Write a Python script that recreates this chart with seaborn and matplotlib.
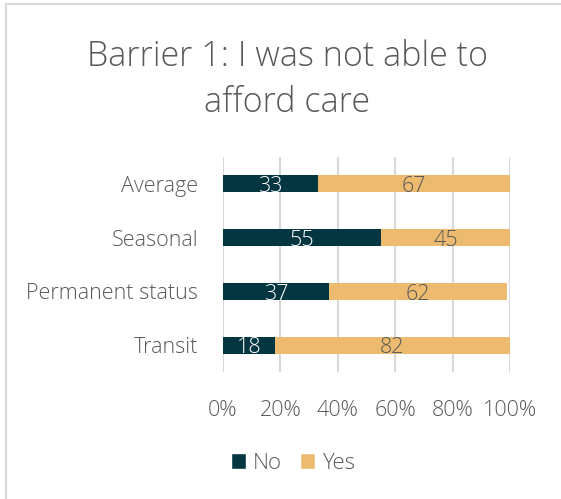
import matplotlib
matplotlib.use("Agg")
import matplotlib.pyplot as plt
from matplotlib.patches import Rectangle, Patch
import pandas as pd
import seaborn as sns

categories = ["Average", "Seasonal", "Permanent status", "Transit"]
no_values = [33, 55, 37, 18]
yes_values = [67, 45, 62, 82]
x_ticks = [0, 20, 40, 60, 80, 100]
x_tick_labels = ["0%", "20%", "40%", "60%", "80%", "100%"]
title = "Barrier 1: I was not able to\nafford care"

NO_COLOR = "#033641"
YES_COLOR = "#EDBB6F"
TEXT = "#595959"

sns.set_theme(style="white")
plt.rcParams["font.family"] = ["Open Sans", "DejaVu Sans"]

df = pd.DataFrame({"category": categories, "No": no_values, "Yes": yes_values})
df["Total"] = df["No"] + df["Yes"]

fig = plt.figure(figsize=(5.61, 4.99), dpi=100)
ax = fig.add_axes([0.3975, 0.2545, 0.5115, 0.4309])

# outer chart frame
fig.patches.append(Rectangle((6 / 561, -0.1), 1.2, 1 - 4 / 499 + 0.1,
                             transform=fig.transFigure, fill=False,
                             edgecolor="#D9D9D9", linewidth=1.5))

sns.barplot(data=df, x="Total", y="category", color=YES_COLOR, width=0.32,
            orient="h", ax=ax, saturation=1, linewidth=0)
sns.barplot(data=df, x="No", y="category", color=NO_COLOR, width=0.32,
            orient="h", ax=ax, saturation=1, linewidth=0)

yes_bars = ax.containers[0]
no_bars = ax.containers[1]
for bar, v in zip(no_bars, no_values):
    ax.text(bar.get_x() + bar.get_width() / 2, bar.get_y() + bar.get_height() / 2 + 0.05,
            str(v), ha="center", va="center", color="white",
            fontsize=15.5, fontweight="light")
for bar, n, v in zip(yes_bars, no_values, yes_values):
    ax.text(n + v / 2, bar.get_y() + bar.get_height() / 2 + 0.05,
            str(v), ha="center", va="center", color=TEXT,
            fontsize=15.5, fontweight="light")

ax.set_xlim(0, 100)
ax.set_ylim(3.5, -0.5)
ax.set_xticks(x_ticks)
ax.set_xticklabels(x_tick_labels, fontsize=15.5, color=TEXT, fontweight="light")
ax.tick_params(axis="y", labelsize=15.5, labelcolor=TEXT, length=0, pad=18)
ax.tick_params(axis="x", length=0, pad=20)
for lbl in ax.get_yticklabels():
    lbl.set_fontweight("light")
ax.set_xlabel("")
ax.set_ylabel("")
ax.xaxis.grid(True, color="#D9D9D9", linewidth=1.5)
ax.set_axisbelow(True)
for s in ax.spines.values():
    s.set_visible(False)

fig.text(0.512, 0.84, title, ha="center", va="center", fontsize=24.5,
         color=TEXT, fontweight="light", linespacing=1.42)

handles = [Patch(facecolor=NO_COLOR, label="No"), Patch(facecolor=YES_COLOR, label="Yes")]
fig.legend(handles=handles, loc="center", bbox_to_anchor=(0.522, 0.072), ncol=2,
           frameon=False, fontsize=16, handlelength=0.7, handleheight=0.7,
           handletextpad=0.3, columnspacing=0.8, labelcolor=TEXT,
           prop={"weight": "light", "size": 16})

fig.savefig("out.png", dpi=100)
